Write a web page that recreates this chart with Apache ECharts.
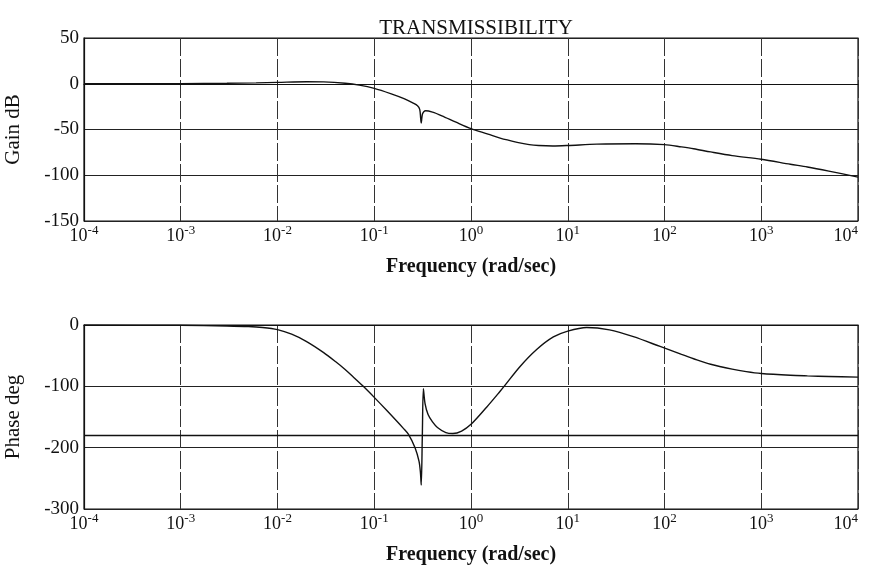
<!DOCTYPE html>
<html>
<head>
<meta charset="utf-8">
<script src="https://cdn.jsdelivr.net/npm/echarts@6/dist/echarts.min.js"></script>
<style>
html,body{margin:0;padding:0;background:#fff;}
#c{width:869px;height:572px;}
</style>
</head>
<body>
<div id="c"></div>
<script>
// ---- data ----
const titleText = 'TRANSMISSIBILITY';
const xName = 'Frequency (rad/sec)';
const gainName = 'Gain dB';
const phaseName = 'Phase deg';

const gainFreq = [1e-4, 1e-3, 3e-3, 0.006, 0.01, 0.02, 0.03, 0.05, 0.07, 0.1, 0.15, 0.2, 0.25, 0.28, 0.295, 0.302, 0.306, 0.31, 0.315, 0.325, 0.34, 0.4, 0.5, 0.7, 1, 1.5, 2, 3, 4, 5, 7, 10, 20, 50, 100, 150, 200, 300, 500, 1000, 2000, 3000, 5000, 10000];
const gainDb   = [0, 0.1, 0.5, 1, 1.5, 2.2, 2, 0.5, -1.5, -5, -11, -16, -21, -24, -28, -38, -43, -38, -33, -30.5, -29.5, -31, -35, -42, -49, -55, -59.5, -64, -66.5, -67.5, -68, -67.5, -66, -65.5, -66.5, -69, -71, -74.5, -78.5, -82.5, -88, -91, -95.5, -102];

const phaseFreq = [1e-4, 1e-3, 3e-3, 0.005, 0.007, 0.01, 0.014, 0.02, 0.03, 0.04, 0.05, 0.06, 0.077, 0.1, 0.135, 0.2, 0.225, 0.264, 0.29, 0.3, 0.306, 0.314, 0.322, 0.335, 0.36, 0.4, 0.45, 0.55, 0.65, 0.8, 1, 1.45, 2, 2.24, 3.2, 4.77, 7.1, 10, 15.7, 27, 47.7, 90, 150, 200, 300, 500, 700, 1000, 2000, 3000, 5000, 10000];
const phaseDeg  = [0, -0.5, -1.6, -2.5, -4, -7.5, -15, -27, -45, -60, -72.5, -84, -100, -118, -139.5, -168.5, -178, -200, -222, -240, -261, -180, -104, -128, -146, -158, -167, -175.5, -177, -173, -162, -134, -108, -98.5, -68, -40, -19.5, -10, -4, -8, -19, -35, -48, -55, -64, -72, -76, -79, -82, -83, -84, -85];

const gainTicks = [-150, -100, -50, 0, 50];
const phaseTicks = [-300, -200, -100, 0];
const phaseRefLine = -180;

// ---- chart ----
const FONT = '"Liberation Serif", "DejaVu Serif", serif';
const pair = (xs, ys) => xs.map((x, i) => [x, ys[i]]);

function xAxisDef(gridIndex) {
  return {
    type: 'log', logBase: 10, gridIndex: gridIndex,
    min: 1e-4, max: 1e4,
    name: xName, nameLocation: 'middle', nameGap: 36,
    nameTextStyle: {fontFamily: FONT, fontSize: 20, fontWeight: 'bold', color: '#111'},
    axisLine: {show: true, lineStyle: {color: '#111', width: 1.2}},
    axisTick: {show: false},
    minorTick: {show: false},
    splitLine: {show: true, lineStyle: {color: '#333', width: 1, type: [18, 3]}},
    axisLabel: {
      margin: 3,
      alignMaxLabel: 'right',
      formatter: function (v) {
        const e = Math.round(Math.log10(v));
        return '{b|10}{s|' + e + '}';
      },
      rich: {
        b: {fontFamily: FONT, fontSize: 18, color: '#111', verticalAlign: 'bottom', lineHeight: 21},
        s: {fontFamily: FONT, fontSize: 13, color: '#111', verticalAlign: 'top', lineHeight: 21}
      }
    }
  };
}

function yAxisDef(gridIndex, ticks, name) {
  return {
    type: 'value', gridIndex: gridIndex,
    min: ticks[0], max: ticks[ticks.length - 1], interval: ticks[1] - ticks[0],
    name: name, nameLocation: 'middle', nameGap: 60,
    nameTextStyle: {fontFamily: FONT, fontSize: 21, color: '#111'},
    axisLine: {show: true, lineStyle: {color: '#111', width: 1.2}},
    axisTick: {show: false},
    splitLine: {show: true, lineStyle: {color: '#222', width: 1.2}},
    axisLabel: {fontFamily: FONT, fontSize: 19, color: '#111', margin: 5}
  };
}

const chart = echarts.init(document.getElementById('c'), null, {renderer: 'canvas'});
chart.setOption({
  animation: false,
  backgroundColor: '#fff',
  title: {
    text: titleText, left: 471, top: 13, textAlign: 'center',
    textStyle: {fontFamily: FONT, fontSize: 21, fontWeight: 'normal', color: '#111'}
  },
  grid: [
    {left: 84, right: 11, top: 38, height: 183, show: true, borderColor: '#111', borderWidth: 1.2, outerBoundsMode: 'none', containLabel: false},
    {left: 84, right: 11, top: 325, height: 184, show: true, borderColor: '#111', borderWidth: 1.2, outerBoundsMode: 'none', containLabel: false}
  ],
  xAxis: [xAxisDef(0), xAxisDef(1)],
  yAxis: [yAxisDef(0, gainTicks, gainName), yAxisDef(1, phaseTicks, phaseName)],
  series: [
    {
      type: 'line', xAxisIndex: 0, yAxisIndex: 0,
      data: pair(gainFreq, gainDb),
      showSymbol: false, smooth: 0.3,
      lineStyle: {color: '#111', width: 1.4}
    },
    {
      type: 'line', xAxisIndex: 1, yAxisIndex: 1,
      data: pair(phaseFreq, phaseDeg),
      showSymbol: false, smooth: 0.3,
      lineStyle: {color: '#111', width: 1.4},
      markLine: {
        silent: true, symbol: 'none', label: {show: false},
        lineStyle: {color: '#111', width: 1.4, type: 'solid'},
        data: [{yAxis: phaseRefLine}]
      }
    }
  ]
});
</script>
</body>
</html>
